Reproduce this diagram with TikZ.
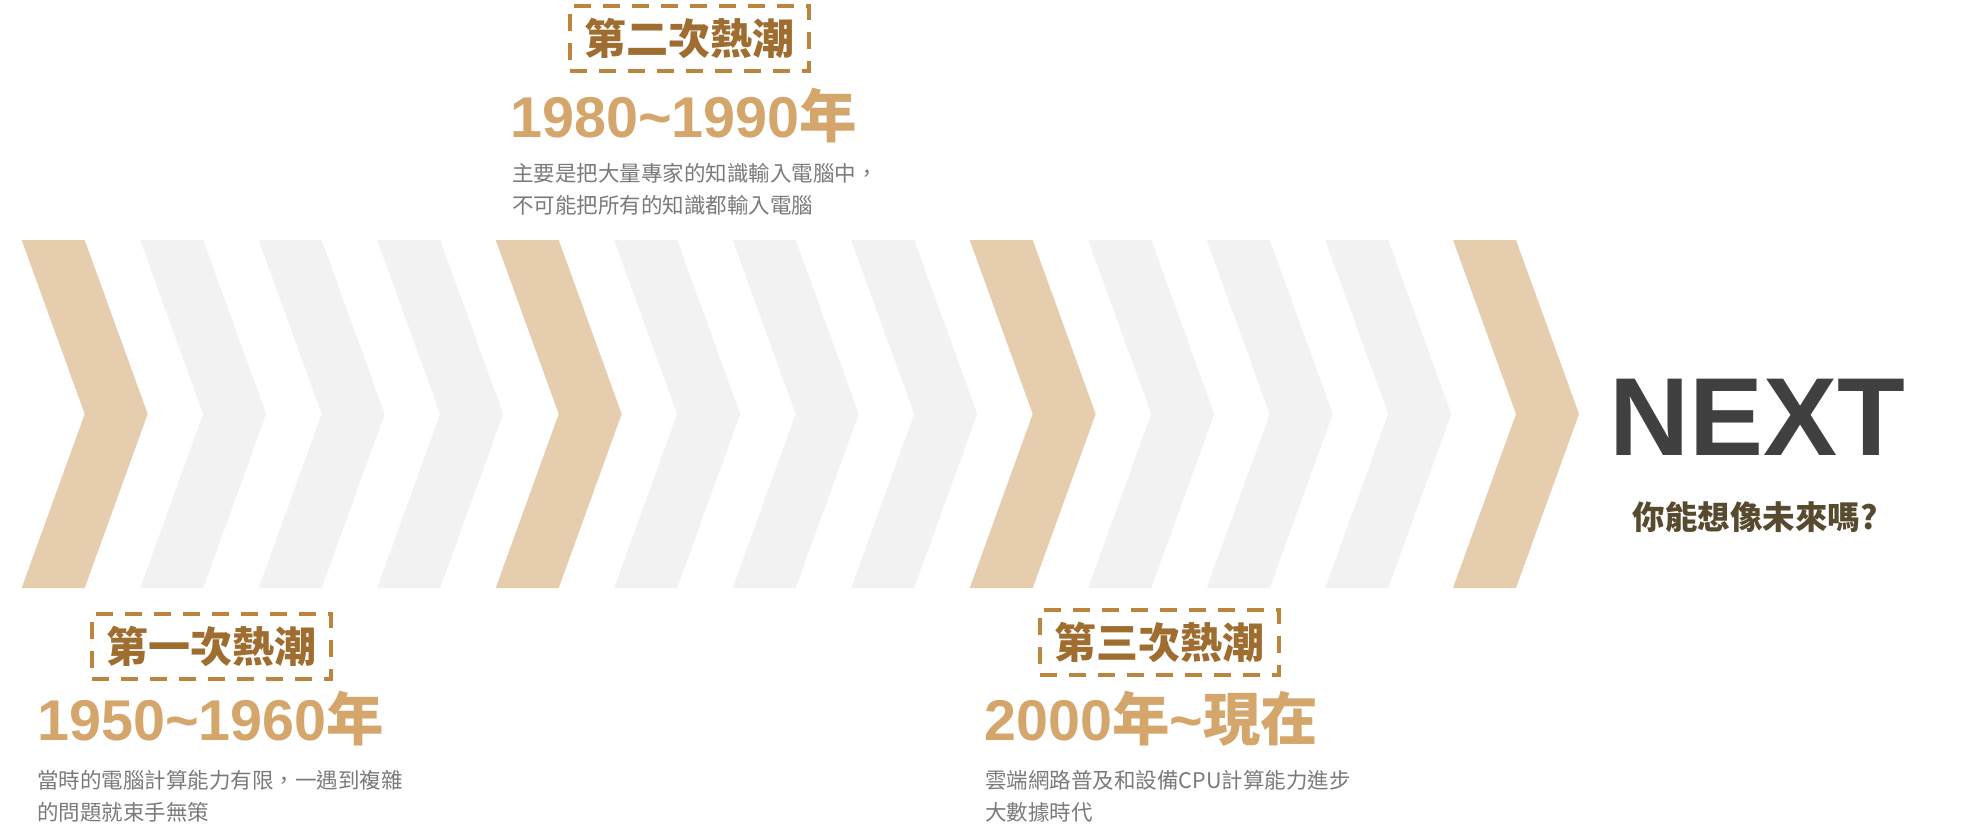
\documentclass[tikz,border=0pt]{standalone}
\usepackage{fontspec}
\setmainfont{Liberation Sans}
\newfontfamily\cjk{Noto Sans CJK TC}
\usetikzlibrary{positioning}
\definecolor{chevtan}{HTML}{E6CDAE}
\definecolor{chevgrey}{HTML}{F2F2F2}
\definecolor{wavetitle}{HTML}{9E6D2F}
\definecolor{waveframe}{HTML}{BB8540}
\definecolor{yearcol}{HTML}{D4A66B}
\definecolor{notecol}{HTML}{7A7A7A}
\definecolor{nextcol}{HTML}{404040}
\definecolor{askcol}{HTML}{574A2E}
\tikzset{
  wavebox/.style={draw=waveframe,line width=4pt,dash pattern=on 17pt off 12pt,
    minimum width=239pt,minimum height=65pt,inner sep=0pt,text=wavetitle,
    font=\cjk\bfseries\fontsize{42}{42}\selectfont},
  yeartext/.style={anchor=base west,inner sep=0pt,text=yearcol,
    font=\bfseries\fontsize{57.5}{57.5}\selectfont},
  notetext/.style={anchor=north west,inner sep=0pt,align=left,text=notecol,
    font=\cjk\fontsize{21.5}{32}\selectfont},
  nexttext/.style={anchor=base,inner sep=0pt,text=nextcol,
    font=\bfseries\fontsize{111}{111}\selectfont},
  asktext/.style={anchor=base,inner sep=0pt,text=askcol,
    font=\cjk\bfseries\fontsize{32.5}{32.5}\selectfont}
}

\begin{document}
\begin{tikzpicture}[x=1pt,y=-1pt]
\useasboundingbox (0,0) rectangle (1977,839);
\newcommand{\chevronat}[2]{%
\begin{scope}[shift={(#1,0)}]
\fill[#2] (0,240) -- (63,240) -- (126,414) -- (63,588) -- (0,588) -- (63,414) -- cycle;
\end{scope}}
\chevronat{21.7}{chevtan}
\chevronat{140.2}{chevgrey}
\chevronat{258.7}{chevgrey}
\chevronat{377.2}{chevgrey}
\chevronat{495.7}{chevtan}
\chevronat{614.2}{chevgrey}
\chevronat{732.7}{chevgrey}
\chevronat{851.2}{chevgrey}
\chevronat{969.7}{chevtan}
\chevronat{1088.2}{chevgrey}
\chevronat{1206.7}{chevgrey}
\chevronat{1325.2}{chevgrey}
\chevronat{1453}{chevtan}
% first wave
\node[wavebox] (w1) at (211.5,646.5) {第一次熱潮};
\node[yeartext] (y1) at (37,740) {1950\textasciitilde1960{\cjk 年}};
\node[notetext] (n1) at (37,770) {當時的電腦計算能力有限，一遇到複雜\\的問題就束手無策};
% second wave
\node[wavebox] (w2) at (689,38.5) {第二次熱潮};
\node[yeartext] (y2) at (510,137) {1980\textasciitilde1990{\cjk 年}};
\node[notetext] (n2) at (512,163) {主要是把大量專家的知識輸入電腦中，\\不可能把所有的知識都輸入電腦};
% third wave
\node[wavebox] (w3) at (1159,642) {第三次熱潮};
\node[yeartext] (y3) at (984,740) {2000{\cjk 年}\textasciitilde{\cjk 現在}};
\node[notetext] (n3) at (985,770) {雲端網路普及和設備CPU計算能力進步\\大數據時代};
% next
\node[nexttext] (next) at (1757,455) {NEXT};
\node[asktext] (ask) at (1755,529) {你能想像未來嗎?};
\end{tikzpicture}
\end{document}
